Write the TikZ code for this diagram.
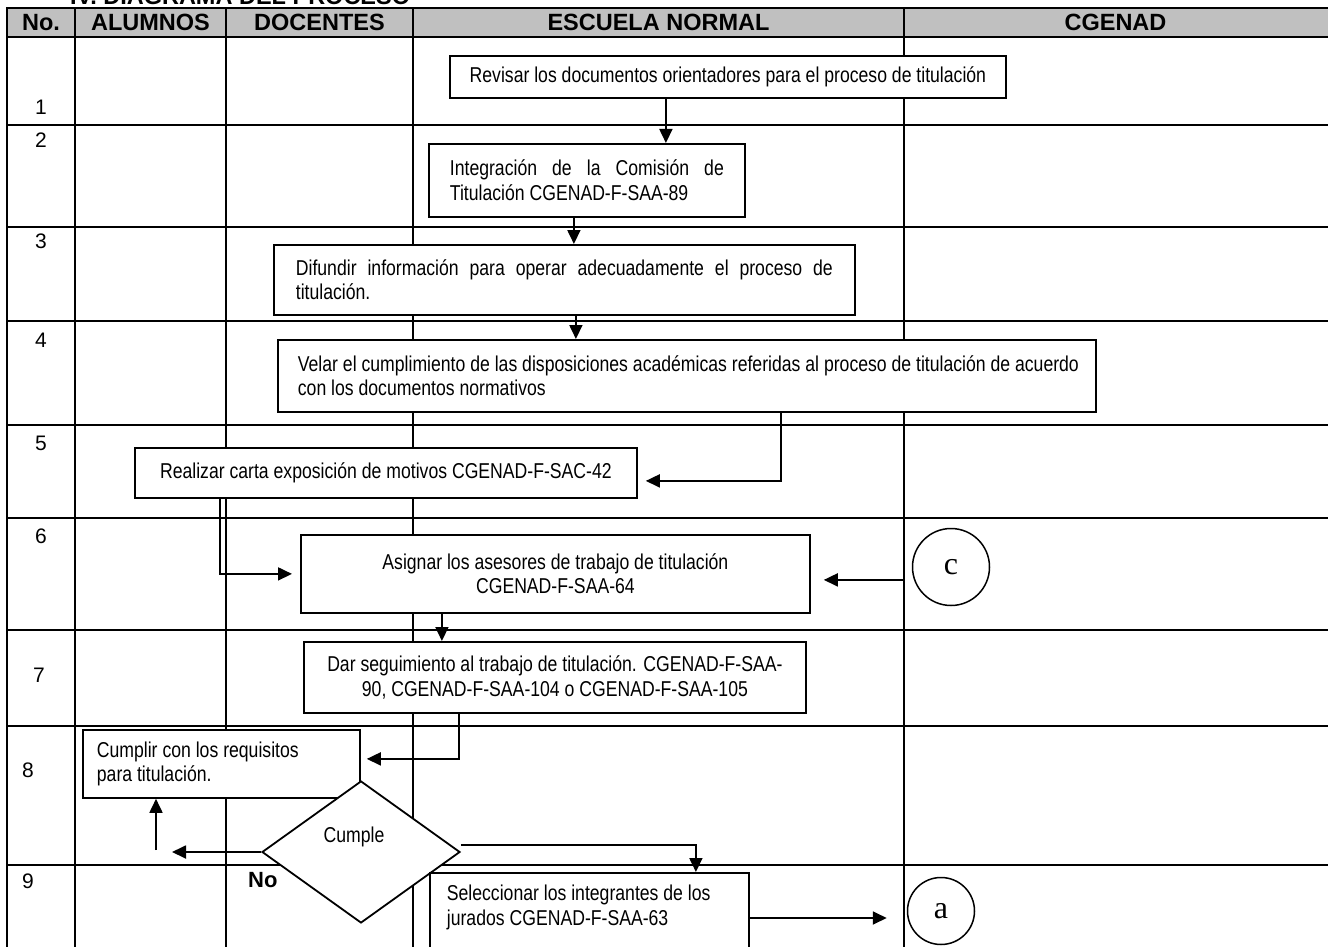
\documentclass[tikz,border=0pt]{standalone}
\usepackage{fontspec}
\setmainfont{Liberation Sans}
\newfontfamily\narrowfont[FakeStretch=0.82]{Liberation Sans}
\newfontfamily\timesfont{Liberation Serif}
\usetikzlibrary{arrows.meta,shapes.geometric}
\definecolor{hdrgray}{RGB}{192,192,192}
\newcommand{\natsp}{\spaceskip=0pt\xspaceskip=0pt\relax}
\begin{document}
\begin{tikzpicture}[x=1pt,y=-1pt,
  grid/.style={line width=1.2pt},
  box/.style={draw, line width=1.8pt, fill=white, inner sep=0pt, anchor=north west,
    font=\narrowfont\fontsize{21.5}{24.5}\selectfont},
  arr/.style={line width=1.8pt, -{Triangle[length=14pt,width=13pt]}},
  hdr/.style={inner sep=0pt, font=\bfseries\fontsize{23.5}{26}\selectfont},
  num/.style={anchor=base, inner sep=0pt, font=\fontsize{21}{24}\selectfont},
  conn/.style={draw, circle, line width=1.5pt, fill=white, inner sep=0pt,
    font=\timesfont\fontsize{32}{36}\selectfont},
  lbl/.style={anchor=base, inner sep=0pt, font=\narrowfont\fontsize{21.5}{24.5}\selectfont},
]
\useasboundingbox (0,0) rectangle (1328,947);
% header band and grid
\fill[hdrgray] (7,8) rectangle (1328,37);
\foreach \y in {8,37,125,227,321,425,518,630,726,865}
  \draw[grid] (6,\y) -- (1328,\y);
\foreach \x in {7,75,226,413,904}
  \draw[grid] (\x,8) -- (\x,960);
% title (cut at top, as in the source)
\node[anchor=base west, inner sep=0pt, font=\bfseries\fontsize{23.5}{26}\selectfont] (title) at (70,5) {IV. DIAGRAMA DEL PROCESO};
% header texts
\node[hdr] (hno) at (41,22.5) {No.};
\node[hdr] (hal) at (150.5,22.5) {ALUMNOS};
\node[hdr] (hdo) at (319.5,22.5) {DOCENTES};
\node[hdr] (hes) at (658.5,22.5) {ESCUELA NORMAL};
\node[hdr] (hcg) at (1115.5,22.5) {CGENAD};
% row numbers
\node[num] (r1) at (41,115) {1};
\node[num] (r2) at (41,148) {2};
\node[num] (r3) at (41,248) {3};
\node[num] (r4) at (41,347) {4};
\node[num] (r5) at (41,450) {5};
\node[num] (r6) at (41,543) {6};
\node[num] (r7) at (39,682) {7};
\node[num] (r8) at (28,777) {8};
\node[num] (r9) at (28,888) {9};
% process boxes
\node[box, minimum width=556pt, minimum height=42pt] (b1) at (449,55)
  {Revisar los documentos orientadores para el proceso de titulación};
\node[box, minimum width=316pt, minimum height=73pt, inner xsep=21pt, text width=274pt, align=left] (b2) at (428,143)
  {\hbox to 274pt{Integración\hfill de\hfill la\hfill Comisión\hfill de}\\\natsp Titulación CGENAD-F-SAA-89};
\node[box, minimum width=581pt, minimum height=70pt, inner xsep=22pt, text width=537pt, align=left] (b3) at (273,244)
  {\hbox to 537pt{Difundir\hfill información\hfill para\hfill operar\hfill adecuadamente\hfill el\hfill proceso\hfill de}\\titulación.};
\node[box, minimum width=818pt, minimum height=72pt, inner xsep=20pt, text width=778pt, align=left] (b4) at (277,339)
  {\natsp\mbox{Velar el cumplimiento de las disposiciones académicas referidas al proceso de titulación de acuerdo}\\con los documentos normativos};
\node[box, minimum width=502pt, minimum height=50pt] (b5) at (134,447)
  {Realizar carta exposición de motivos CGENAD-F-SAC-42};
\node[box, minimum width=509pt, minimum height=78pt, align=center] (b6) at (300,534)
  {Asignar los asesores de trabajo de titulación\\CGENAD-F-SAA-64};
\node[box, minimum width=502pt, minimum height=71pt, align=center] (b7) at (303,641)
  {Dar seguimiento al trabajo de titulación. CGENAD-F-SAA-\\90, CGENAD-F-SAA-104 o CGENAD-F-SAA-105};
\node[box, minimum width=277pt, minimum height=68pt, inner xsep=14pt, text width=249pt, align=left] (b8) at (82,729)
  {\natsp Cumplir con los requisitos\\para titulación.};
\node[draw, diamond, line width=1.8pt, fill=white, minimum width=198pt, minimum height=142pt, inner sep=0pt] (dia) at (361,852) {};
\node[lbl] (cumple) at (354,842) {Cumple};
\node[anchor=base west, inner sep=0pt, font=\bfseries\fontsize{22}{24}\selectfont] (no) at (248,887) {No};
\node[box, minimum width=319pt, inner xsep=17pt, text width=285pt, align=left] (b9) at (429,872)
  {\natsp\rule{0pt}{28pt}Seleccionar los integrantes de los\\jurados CGENAD-F-SAA-63\rule[-60pt]{0pt}{60pt}};
% off-page connectors
\node[conn, minimum size=77pt] (cc) at (951,567) {c};
\node[conn, minimum size=67pt] (ca) at (941,911) {a};
% arrows
\coordinate (p12) at ([xshift=-62pt]b1.south);
\draw[arr] (p12) -- (p12 |- b2.north);
\coordinate (p23) at ([xshift=-13pt]b2.south);
\draw[arr] (p23) -- (p23 |- b3.north);
\coordinate (p34) at ([xshift=11.5pt]b3.south);
\draw[arr] (p34) -- (p34 |- b4.north);
\coordinate (p45) at ([xshift=94pt]b4.south);
\coordinate (t45) at ([xshift=8pt,yshift=-8pt]b5.east);
\draw[arr] (p45) |- (t45);
\coordinate (p56) at ([xshift=-166pt]b5.south);
\coordinate (t56) at ([xshift=-8pt]b6.west);
\draw[arr] (p56) |- (t56);
\coordinate (tc6) at ([xshift=13pt,yshift=-6pt]b6.east);
\coordinate (sc) at ([xshift=-7pt]cc.west);
\draw[arr] (sc |- tc6) -- (tc6);
\coordinate (p67) at ([xshift=-113.5pt]b6.south);
\draw[arr] (p67) -- (p67 |- b7.north);
\coordinate (p78) at ([xshift=-96pt]b7.south);
\coordinate (t78) at ([xshift=6pt,yshift=5pt]b8.east);
\draw[arr] (p78) |- (t78);
\coordinate (tno) at (172,852);
\draw[arr] (dia.west) -- (tno);
\coordinate (sno) at (156,850);
\draw[arr] (sno) -- (sno |- b8.south);
\coordinate (t9) at ([xshift=106.5pt]b9.north);
\draw[arr] ([yshift=7pt]dia.east) -| (t9);
\coordinate (ta) at ([xshift=-20pt,yshift=-7pt]ca.west);
\draw[arr] (b9.east |- ta) -- (ta);
\end{tikzpicture}
\end{document}
